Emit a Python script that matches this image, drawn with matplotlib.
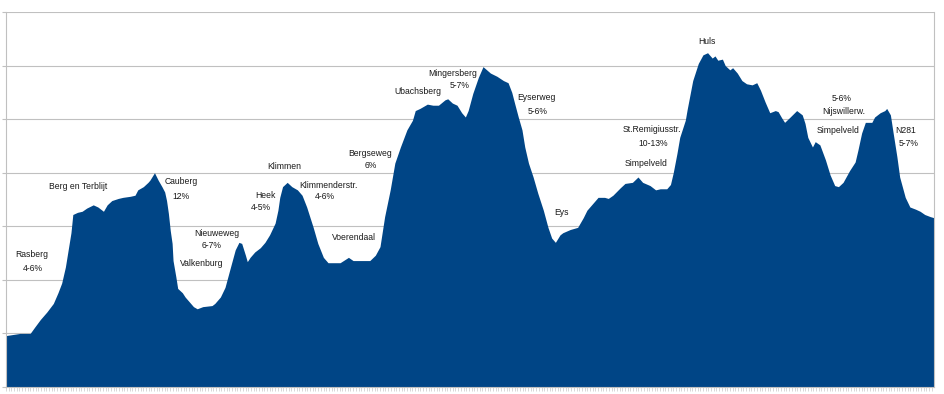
import numpy as np
import matplotlib
matplotlib.use("Agg")
import matplotlib.pyplot as plt

plt.rcParams.update({
    'font.family': ['Liberation Sans', 'DejaVu Sans'],
    'font.size': 6.2,
})

# route profile: distance (km) and elevation (m)
distance = [0.0, 1.5, 2.6, 3.1, 3.7, 4.4, 5.1, 5.6, 6.0, 6.4, 6.7, 7.0, 7.2, 7.7,
            8.2, 8.7, 9.4, 9.9, 10.5, 10.9, 11.4, 12.1, 12.6, 13.4, 13.9, 14.2,
            14.8, 15.3, 15.5, 16.0, 16.4, 16.8, 17.1, 17.3,
            17.5, 17.7, 17.9, 18.0, 18.3, 18.5, 19.0, 19.3, 19.6, 20.2, 20.6, 21.2,
            22.2, 22.5, 23.1, 23.6, 24.1, 24.7, 25.1, 25.4, 25.8, 26.0, 26.3, 26.8,
            27.4, 27.9, 28.4, 29.0, 29.3, 29.5, 29.8, 30.3, 30.8, 31.4, 31.9, 32.4,
            33.1, 33.6, 34.2, 34.7, 36.0, 36.9, 37.4, 39.2, 39.8, 40.3, 40.8, 41.4,
            41.9, 42.5, 43.2, 43.8, 44.1, 44.6, 45.4, 46.0, 46.6, 47.3, 47.6, 48.1,
            48.6, 49.1, 49.5, 49.8, 50.3, 50.9, 51.4, 52.2, 52.9, 53.6, 54.1, 54.5,
            54.8, 55.2, 55.6, 55.9, 56.3, 56.8, 57.3, 57.9, 58.4, 58.8, 59.2, 59.7,
            60.0, 60.8, 61.6, 62.2, 62.6, 63.3, 63.8, 64.5, 64.9, 65.4, 66.2, 66.7,
            67.5, 68.1, 68.6, 69.4, 70.0, 70.5, 71.2, 71.6, 71.9, 72.3, 72.6, 73.2,
            73.4, 74.0, 74.6, 75.1, 75.6,
            76.1, 76.4, 76.7, 77.2, 77.5, 78.0, 78.3, 78.8, 79.3, 79.8, 80.4, 80.9,
            81.3, 81.8, 82.3, 82.9, 83.2, 83.6, 83.9, 84.5, 85.2, 85.8, 86.1, 86.4,
            86.9, 87.2, 87.7, 88.3, 88.8, 89.3, 89.7, 90.2, 90.9, 91.5, 91.8, 92.2,
            92.6, 93.3, 93.6, 94.2, 94.7, 94.9, 95.3, 95.6, 96.0, 96.3, 96.9, 97.4,
            98.0, 98.5, 99.0, 99.6, 100.0]
elevation = [48, 50, 50, 56, 63, 70, 78, 88, 97, 112, 128, 144, 161, 163,
             164, 167, 170, 168, 164, 170, 174, 176, 177, 178, 179, 184,
             187, 191, 193, 200, 193, 187, 182, 174,
             162, 146, 134, 118, 103, 92, 88, 84, 81, 75, 73, 75,
             76, 78, 84, 93, 109, 128, 135, 134, 123, 117, 121, 126,
             130, 135, 142, 153, 165, 177, 187, 191, 187, 184, 179, 168,
             149, 134, 121, 116, 116, 121, 118, 118, 123, 131, 159, 184,
             209, 224, 240, 249, 258, 260, 264, 263, 263, 268, 269, 265,
             263, 256, 252, 258, 274, 289, 299, 293, 290, 286, 284, 275,
             265, 252, 240, 224, 209, 196, 181, 165, 149, 139, 135, 142,
             144, 147, 149, 158, 165, 172, 177, 177, 176, 179, 186, 190,
             191, 196, 191, 188, 184, 185, 185, 189, 200, 218, 233, 249,
             259, 286, 302, 310, 312,
             307, 309, 305, 306, 300, 296, 298, 293, 286, 283, 282, 284,
             277, 266, 256, 258, 257, 251, 247, 252, 258, 254, 246, 233,
             224, 229, 226, 212, 198, 188, 187, 191, 202, 210, 221, 237,
             247, 247, 252, 256, 258, 260, 254, 237, 215, 196, 177, 168,
             166, 164, 161, 159, 158]

# climb / place labels: (km, elevation, text)
label_km = [2.8, 2.9, 7.8, 18.9, 18.9, 22.7, 22.2, 21.1, 28.0, 27.5, 30.0, 34.7,
            34.4, 37.5, 39.2, 39.3, 44.4, 48.1, 48.9, 57.2, 57.3, 59.9, 69.6,
            69.7, 69.0, 75.5, 90.0, 90.3, 89.7, 96.9, 97.3]
label_elev = [124, 111, 187, 192, 178, 143, 132, 115, 179, 168, 206, 188,
              178, 140, 218, 207, 276, 293, 281, 270, 257, 163, 240,
              227, 209, 322, 269, 257, 239, 239, 227]
label_text = ['Rasberg', '4-6%', 'Berg en Terblijt', 'Cauberg', '12%', 'Nieuweweg',
              '6-7%', 'Valkenburg', 'Heek', '4-5%', 'Klimmen', 'Klimmenderstr.',
              '4-6%', 'Voerendaal', 'Bergseweg', '6%', 'Ubachsberg', 'Mingersberg',
              '5-7%', 'Eyserweg', '5-6%', 'Eys', 'St.Remigiusstr.', '10-13%',
              'Simpelveld', 'Huls', '5-6%', 'Nijswillerw.', 'Simpelveld', 'N281', '5-7%']

fig = plt.figure(figsize=(9.44, 3.94), dpi=100)
ax = fig.add_axes([6 / 944, 7 / 394, 928 / 944, 375 / 394])

ax.fill_between(distance, elevation, 0, color='#004586', linewidth=0, zorder=2)

ax.set_xlim(0, 100)
ax.set_ylim(0, 350)
ax.set_yticks(np.arange(0, 351, 50))
ax.set_yticklabels([])
ax.set_xticks(np.arange(0, 100.01, 0.29))
ax.set_xticklabels([])
ax.grid(axis='y', color='#c0c0c0', linewidth=0.8, zorder=0)
ax.tick_params(axis='y', length=3, color='#c0c0c0', width=0.8)
ax.tick_params(axis='x', length=3, color='#c8c8c8', width=0.5)
for side in ['left', 'right', 'bottom']:
    ax.spines[side].set_color('#c0c0c0')
    ax.spines[side].set_linewidth(0.8)
ax.spines['top'].set_visible(False)

for x, y, t in zip(label_km, label_elev, label_text):
    ax.text(x, y, t, ha='center', va='center', fontsize=6.2, color='#1a1a1a', zorder=3)

fig.savefig('out.png', dpi=100)
